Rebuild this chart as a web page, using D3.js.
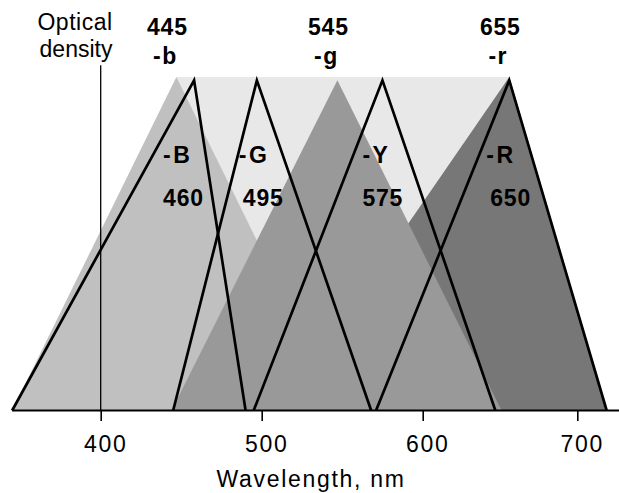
<!DOCTYPE html>
<html>
<head>
<meta charset="utf-8">
<script src="https://cdn.jsdelivr.net/npm/d3@7"></script>
<style>
  body { margin: 0; background: #fff; }
  svg { display: block; }
  text { font-family: "Liberation Sans", Arial, Helvetica, sans-serif; fill: #000; }
</style>
</head>
<body>
<svg width="619" height="493"></svg>
<script>
// dye absorption peaks (filled) and filter curves (outlined), wavelength in nm
var dyeNames  = ["-b", "-g", "-r"];
var dyeLabels = ["445", "545", "655"];
var dyeLeft   = [345, 444, 511];
var dyeApex   = [447, 547, 656];
var dyeRight  = [549, 651, 719];
var dyeMax    = [1, 0.99, 1];

var filterNames  = ["-B", "-G", "-Y", "-R"];
var filterLabels = ["460", "495", "575", "650"];
var filterLeft   = [345, 445, 495, 571];
var filterApex   = [458, 497, 575, 656];
var filterRight  = [490, 568, 647, 719];
var filterMax    = [0.99, 0.99, 0.99, 0.99];

var xTicks = [400, 500, 600, 700];

// styles / layout
var dyeColor = { "-b": "#c0c0c0", "-g": "#999999", "-r": "#777777" };
var drawOrder = [2, 0, 1];   // r under b under g
var filterDx = [[-31, -31], [-18, -14], [-20, -20], [-23, -19]];

var svg = d3.select("svg"),
    width = +svg.attr("width"),
    height = +svg.attr("height");

var x = d3.scaleLinear()
    .domain([400, 500, 600, 700])
    .range([100.7, 261.7, 422.7, 577.3]);

var y = d3.scaleLinear()
    .domain([0, 1])
    .range([410.5, 77]);

var line = d3.line()
    .x(function(d) { return x(d[0]); })
    .y(function(d) { return y(d[1]); });

// light band spanning the dye peaks
svg.append("path")
    .attr("d", line([[dyeApex[0], 0], [dyeApex[0], 1], [dyeApex[2], 1], [dyeApex[2], 0]]) + "Z")
    .attr("fill", "#e8e8e8");

// dye triangles
svg.append("g").selectAll("path")
    .data(drawOrder)
    .enter().append("path")
      .attr("d", function(i) {
        return line([[dyeLeft[i], 0], [dyeApex[i], dyeMax[i]], [dyeRight[i], 0]]) + "Z";
      })
      .attr("fill", function(i) { return dyeColor[dyeNames[i]]; });

// optical density axis
svg.append("line")
    .attr("x1", x(400)).attr("x2", x(400))
    .attr("y1", y(0)).attr("y2", y(1.035))
    .attr("stroke", "#000")
    .attr("stroke-width", 1.3);

// filter outlines
svg.append("g").selectAll("path")
    .data(filterNames)
    .enter().append("path")
      .attr("d", function(d, i) {
        return line([[filterLeft[i], 0], [filterApex[i], filterMax[i]], [filterRight[i], 0]]);
      })
      .attr("fill", "none")
      .attr("stroke", "#000")
      .attr("stroke-width", 2.7)
      .attr("stroke-linejoin", "miter");

// wavelength axis
var xAxis = d3.axisBottom(x)
    .tickValues(xTicks)
    .tickSize(10.5)
    .tickPadding(13)
    .tickFormat(d3.format("d"));

var gx = svg.append("g")
    .attr("transform", "translate(0," + y(0) + ")")
    .call(xAxis);

gx.select(".domain").remove();
gx.selectAll(".tick line").attr("stroke", "#000").attr("stroke-width", 1.6);
gx.selectAll(".tick text")
    .attr("dx", 4.5)
    .attr("dy", 0)
    .attr("y", 41)
    .style("font-size", "23px")
    .style("letter-spacing", "1.7px")
    .style("font-family", '"Liberation Sans", Arial, sans-serif')
    .attr("fill", "#000");

svg.append("line")
    .attr("x1", x(dyeLeft[0])).attr("x2", width)
    .attr("y1", y(0)).attr("y2", y(0))
    .attr("stroke", "#000")
    .attr("stroke-width", 2);

svg.append("text")
    .attr("x", 311).attr("y", 487)
    .attr("text-anchor", "middle")
    .style("font-size", "23px")
    .style("letter-spacing", "1.7px")
    .text("Wavelength, nm");

svg.append("text")
    .attr("x", 75).attr("y", 29.5)
    .attr("text-anchor", "middle")
    .style("font-size", "23px")
    .style("letter-spacing", "0.5px")
    .text("Optical");

svg.append("text")
    .attr("x", 76).attr("y", 56.5)
    .attr("text-anchor", "middle")
    .style("font-size", "23px")
    .text("density");

// dye labels above the peaks
var dyeText = svg.append("g").selectAll("g")
    .data(dyeNames)
    .enter().append("g");

dyeText.append("text")
    .attr("x", function(d, i) { return x(dyeApex[i]) - 9; })
    .attr("y", 35)
    .attr("text-anchor", "middle")
    .style("font-size", "23px")
    .style("font-weight", "bold")
    .style("letter-spacing", "0.8px")
    .text(function(d, i) { return dyeLabels[i]; });

dyeText.append("text")
    .attr("x", function(d, i) { return x(dyeApex[i]) - 11; })
    .attr("y", 64)
    .attr("text-anchor", "middle")
    .style("font-size", "23px")
    .style("font-weight", "bold")
    .style("letter-spacing", "1.5px")
    .text(function(d) { return d; });

// filter labels inside the outlines
var filterText = svg.append("g").selectAll("g")
    .data(filterNames)
    .enter().append("g");

filterText.append("text")
    .attr("x", function(d, i) { return x(filterApex[i]) + filterDx[i][0]; })
    .attr("y", 163)
    .style("font-size", "23px")
    .style("font-weight", "bold")
    .style("letter-spacing", "2.5px")
    .text(function(d) { return d; });

filterText.append("text")
    .attr("x", function(d, i) { return x(filterApex[i]) + filterDx[i][1]; })
    .attr("y", 206)
    .style("font-size", "23px")
    .style("font-weight", "bold")
    .style("letter-spacing", "0.8px")
    .text(function(d, i) { return filterLabels[i]; });
</script>
</body>
</html>
